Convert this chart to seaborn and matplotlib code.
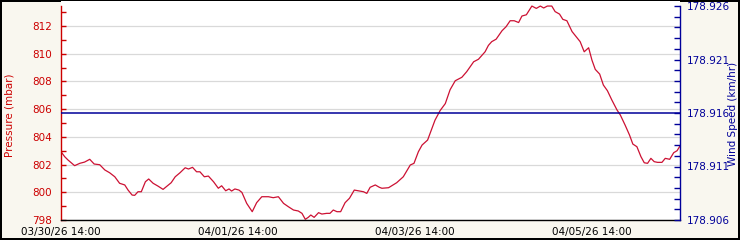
import matplotlib
matplotlib.use("Agg")
import matplotlib.pyplot as plt
import seaborn as sns
import pandas as pd
import numpy as np

# ---- data ----
hours = [0.0, 1.0, 1.9, 3.7, 5.1, 6.4, 7.8, 9.0, 10.5, 11.9, 13.2, 14.6, 15.9, 17.3,
         18.2, 19.3, 20.0, 20.9, 21.8, 22.9, 23.8, 25.0, 26.3, 27.7, 28.8, 29.9, 31.0,
         32.3, 33.7, 34.6, 35.7, 36.8, 37.7, 38.9, 40.0, 41.4, 42.7, 43.6, 44.7, 45.6,
         46.3, 47.2, 48.3, 49.1, 50.4, 51.9, 53.1, 54.5, 56.3, 57.6, 59.0, 60.4, 61.7,
         63.1, 64.4, 65.4, 66.3, 67.1, 67.8, 68.7, 69.9, 70.8, 72.1, 73.0, 73.9, 74.9,
         75.9, 77.1, 78.3, 79.6, 80.7, 82.1, 83.0, 83.9, 85.3, 86.4, 87.1, 88.9, 91.1,
         92.9, 94.8, 95.8, 97.0, 98.0, 99.5, 100.7, 101.5, 102.9, 104.3, 105.6, 107.0,
         108.8, 110.1, 112.0, 113.3, 115.1, 116.0, 116.9, 118.1, 119.7, 120.8, 121.9,
         123.0, 124.2, 125.1, 126.3, 127.8, 129.0, 130.1, 131.0, 132.0, 133.2, 134.1,
         135.3, 136.2, 137.3, 138.7, 139.8, 140.9, 142.0, 143.2, 144.1, 145.0, 146.2,
         147.2, 148.3, 149.5, 150.9, 151.8, 153.1, 154.3, 155.2, 156.3, 157.4, 158.3,
         159.2, 160.1, 161.0, 161.9, 163.1, 164.0, 165.2, 166.3, 167.2, 168.0]
pressure = [802.93, 802.57, 802.33, 801.92, 802.09, 802.18, 802.38, 802.04, 801.99,
            801.61, 801.41, 801.12, 800.65, 800.53, 800.16, 799.80, 799.78, 800.04,
            800.04, 800.76, 800.96, 800.65, 800.45, 800.21, 800.45, 800.69, 801.12,
            801.41, 801.77, 801.68, 801.80, 801.48, 801.48, 801.12, 801.17, 800.76,
            800.29, 800.47, 800.11, 800.24, 800.09, 800.24, 800.16, 799.99, 799.20,
            798.60, 799.25, 799.68, 799.68, 799.61, 799.68, 799.20, 798.96, 798.72,
            798.65, 798.48, 798.05, 798.19, 798.36, 798.19, 798.53, 798.43, 798.48,
            798.48, 798.72, 798.60, 798.60, 799.25, 799.57, 800.16, 800.11, 800.04,
            799.92, 800.36, 800.53, 800.36, 800.29, 800.33, 800.69, 801.12, 801.97,
            802.09, 802.93, 803.41, 803.77, 804.62, 805.20, 805.90, 806.40, 807.40,
            808.05, 808.30, 808.70, 809.42, 809.60, 810.14, 810.60, 810.87, 811.05,
            811.66, 811.95, 812.38, 812.38, 812.25, 812.72, 812.81, 813.44, 813.27,
            813.44, 813.30, 813.44, 813.44, 813.04, 812.86, 812.48, 812.38, 811.60,
            811.24, 810.87, 810.14, 810.43, 809.54, 808.87, 808.53, 807.74, 807.33,
            806.66, 805.94, 805.58, 804.85, 804.13, 803.48, 803.29, 802.57, 802.13,
            802.09, 802.45, 802.21, 802.16, 802.16, 802.45, 802.38, 802.86, 803.00,
            803.34]
wind_hours = [0.0, 168.0]
wind_speed = [178.916, 178.916]

start_time = "2026-03-30 14:00"
x_tick_hours = [0, 48, 96, 144]
x_tick_labels = ["03/30/26 14:00", "04/01/26 14:00", "04/03/26 14:00", "04/05/26 14:00"]
p_ticks = [798, 800, 802, 804, 806, 808, 810, 812]
w_ticks = [178.906, 178.911, 178.916, 178.921, 178.926]

# ---- styling ----
sns.set_style("white")
plt.rcParams['font.family'] = ['DejaVu Sans']

RED = "#cc0000"
LINE_RED = "#cc1133"
BLUE = "#000099"
BG = "#f9f7ef"

t0 = pd.Timestamp(start_time)
df_p = pd.DataFrame({"time": [t0 + pd.Timedelta(hours=h) for h in hours], "pressure": pressure})
df_w = pd.DataFrame({"time": [t0 + pd.Timedelta(hours=h) for h in wind_hours], "wind": wind_speed})

fig = plt.figure(figsize=(7.4, 2.4), dpi=100)
fig.patch.set_facecolor(BG)
fig.patch.set_edgecolor("black")
fig.patch.set_linewidth(1.5)

ax = fig.add_axes([61 / 740, 20 / 240, 619 / 740, 219 / 240])
ax.set_facecolor("white")

sns.lineplot(data=df_p, x="time", y="pressure", ax=ax, color=LINE_RED, linewidth=0.9)

ax2 = ax.twinx()
sns.lineplot(data=df_w, x="time", y="wind", ax=ax2, color=BLUE, linewidth=1.1)

xmin = t0
xmax = t0 + pd.Timedelta(hours=168)
ax.set_xlim(xmin, xmax)

# y scales: 13.857 px per mbar, 10700 px per km/hr unit
ax.set_ylim(798, 798 + 219 / 13.857)
ax2.set_ylim(178.906, 178.906 + 219 / 10700)

# x ticks
major_x = [t0 + pd.Timedelta(hours=h) for h in x_tick_hours]
minor_x = [t0 + pd.Timedelta(hours=h) for h in range(0, 169, 12)]
ax.set_xticks(major_x)
ax.set_xticklabels(x_tick_labels)
ax.set_xticks(minor_x, minor=True)
ax.tick_params(axis="x", which="major", direction="in", length=8, width=1, color="black",
               labelsize=7.5, pad=5, labelcolor="black")
ax.tick_params(axis="x", which="minor", direction="in", length=3.5, width=1, color="black")

# left y ticks
ax.set_yticks(p_ticks)
ax.set_yticklabels([str(v) for v in p_ticks])
ax.set_yticks(np.arange(799, 814, 1), minor=True)
ax.tick_params(axis="y", which="major", direction="in", length=3.5, width=1, color=RED,
               labelcolor=RED, labelsize=7.5, pad=6.5)
ax.tick_params(axis="y", which="minor", direction="in", length=3.5, width=1, color=RED)
ax.yaxis.grid(True, which="major", color="#d9d9d9", linewidth=0.9)
ax.xaxis.grid(False)

# right y ticks
ax2.set_yticks(w_ticks)
ax2.set_yticklabels([f"{v:.3f}" for v in w_ticks])
ax2.set_yticks([178.906 + i * 0.001 for i in range(21)], minor=True)
ax2.tick_params(axis="y", which="major", direction="in", length=4, width=1, color=BLUE,
                labelcolor=BLUE, labelsize=7.5, pad=5)
ax2.tick_params(axis="y", which="minor", direction="in", length=4, width=1, color=BLUE)
ax2.grid(False)

# spines
for a in (ax, ax2):
    a.spines["top"].set_visible(False)
ax.spines["right"].set_visible(False)
ax.spines["left"].set_color(RED)
ax.spines["left"].set_linewidth(1)
ax.spines["left"].set_bounds(798, 813.44)
ax.spines["bottom"].set_color("black")
ax.spines["bottom"].set_linewidth(1)
ax2.spines["left"].set_visible(False)
ax2.spines["bottom"].set_visible(False)
ax2.spines["right"].set_color(BLUE)
ax2.spines["right"].set_linewidth(1)
ax2.spines["right"].set_bounds(178.906, 178.926)

ax.set_xlabel("")
ax.set_ylabel("")
ax2.set_xlabel("")
ax2.set_ylabel("")

fig.text(10 / 740, 1 - 115 / 240, "Pressure (mbar)", rotation=90, color=RED,
         fontsize=7.5, ha="center", va="center")
fig.text(733 / 740, 1 - 114 / 240, "Wind Speed (km/hr)", rotation=90, color=BLUE,
         fontsize=7.5, ha="center", va="center")

fig.savefig("out.png", dpi=100, facecolor=fig.get_facecolor(), edgecolor="black")
